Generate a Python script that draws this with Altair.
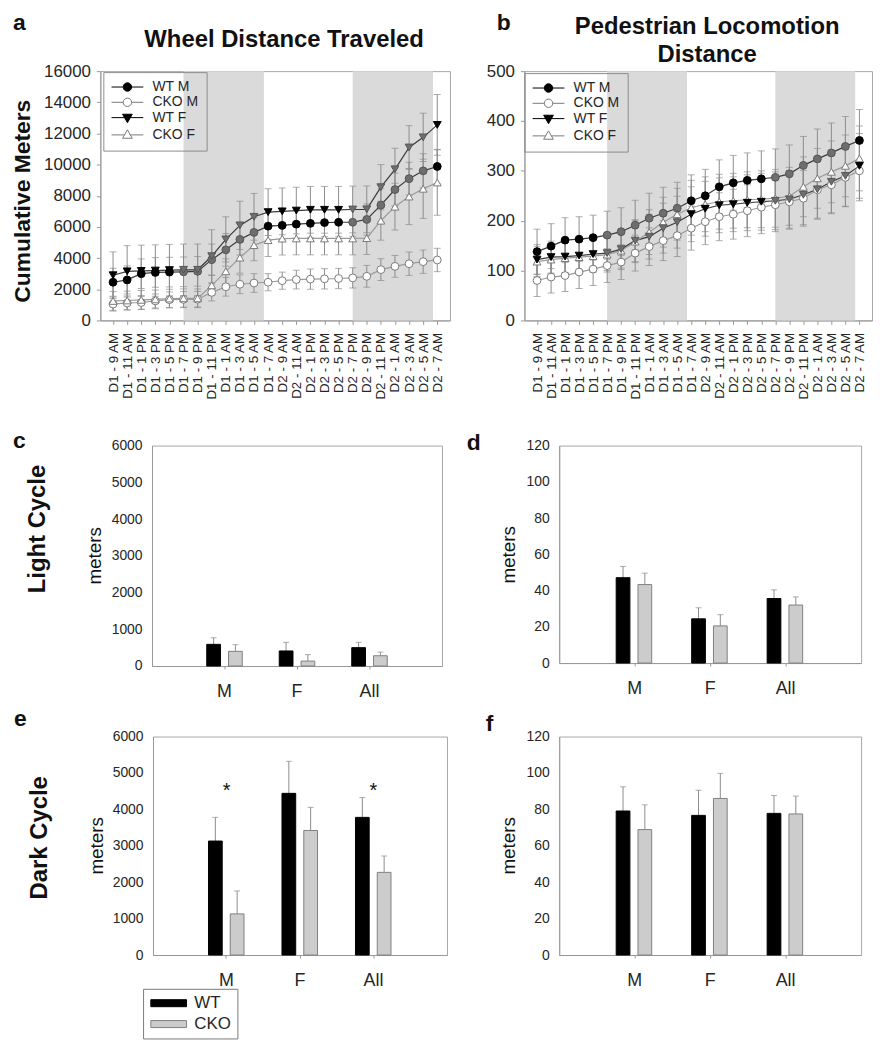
import json
import altair as alt
import pandas as pd

FONT = "Liberation Sans, Arial, Helvetica, sans-serif"
TXT = "#111111"
LAB = "#262626"
GRAY = "#999999"

# ---------------- data ----------------
time_labels = ["D1 - 9 AM", "D1 - 11 AM", "D1 - 1 PM", "D1 - 3 PM", "D1 - 5 PM", "D1 - 7 PM",
               "D1 - 9 PM", "D1 - 11 PM", "D1 - 1 AM", "D1 - 3 AM", "D1 - 5 AM", "D1 - 7 AM",
               "D2 - 9 AM", "D2 - 11 AM", "D2 - 1 PM", "D2 - 3 PM", "D2 - 5 PM", "D2 - 7 PM",
               "D2 - 9 PM", "D2 - 11 PM", "D2 - 1 AM", "D2 - 3 AM", "D2 - 5 AM", "D2 - 7 AM"]
series_names = ["WT M", "CKO M", "WT F", "CKO F"]
dark_start = [5.0, 17.0]
dark_end = [10.7, 22.7]

wheel_wt_m = [2450, 2600, 3000, 3080, 3100, 3120, 3150, 3900, 4530, 5200, 5650, 6050,
              6100, 6180, 6230, 6280, 6300, 6300, 6480, 7400, 8400, 9100, 9600, 9880]
wheel_wt_m_err = [900, 900, 950, 950, 950, 950, 950, 1000, 1050, 1000, 950, 900,
                  900, 900, 900, 900, 900, 900, 1000, 1050, 1050, 1050, 1100, 1100]
wheel_cko_m = [1050, 1120, 1150, 1250, 1330, 1350, 1360, 1800, 2160, 2320, 2400, 2450,
               2550, 2620, 2650, 2670, 2690, 2730, 2830, 3260, 3470, 3640, 3770, 3880]
wheel_cko_m_err = [450, 450, 450, 450, 500, 500, 500, 550, 600, 600, 600, 550,
                   550, 600, 650, 650, 650, 650, 700, 700, 700, 750, 750, 750]
wheel_wt_f = [2900, 3150, 3180, 3200, 3230, 3250, 3250, 4120, 5200, 6100, 6650, 6950,
              7000, 7050, 7100, 7100, 7100, 7120, 7130, 8550, 9700, 11100, 11750, 12550]
wheel_wt_f_err = [1500, 1650, 1650, 1650, 1650, 1650, 1650, 1700, 1450, 1550, 1500, 1500,
                  1500, 1500, 1500, 1500, 1500, 1500, 1500, 1450, 1350, 1400, 1550, 1950]
wheel_cko_f = [1250, 1280, 1320, 1350, 1400, 1420, 1420, 2250, 3150, 4030, 4830, 5150,
               5250, 5260, 5260, 5260, 5260, 5260, 5280, 6400, 7300, 7950, 8450, 8850]
wheel_cko_f_err = [600, 600, 600, 600, 600, 600, 600, 650, 800, 1000, 1000, 1050,
                   1050, 1050, 1050, 1050, 1050, 1050, 1050, 1250, 1500, 1800, 1900, 2100]

ped_wt_m = [138, 149, 161, 163, 166, 171, 178, 191, 205, 215, 225, 240,
            250, 268, 276, 281, 284, 287, 294, 311, 324, 336, 349, 361]
ped_wt_m_err = [45, 45, 45, 45, 45, 48, 48, 50, 50, 52, 52, 52,
                53, 54, 55, 55, 56, 57, 58, 58, 60, 60, 60, 62]
ped_cko_m = [80, 87, 90, 97, 103, 110, 117, 135, 148, 160, 170, 185,
             198, 208, 213, 220, 227, 232, 238, 245, 262, 272, 287, 300]
ped_cko_m_err = [32, 32, 32, 33, 33, 34, 35, 36, 38, 40, 42, 44,
                 46, 48, 50, 52, 53, 54, 55, 56, 57, 58, 58, 60]
ped_wt_f = [122, 127, 128, 130, 133, 135, 143, 160, 168, 185, 197, 213,
            224, 231, 233, 236, 238, 240, 243, 252, 263, 278, 290, 310]
ped_wt_f_err = [30, 32, 32, 33, 33, 35, 38, 42, 45, 50, 52, 55,
                55, 55, 55, 56, 57, 58, 58, 60, 60, 62, 62, 65]
ped_cko_f = [118, 122, 125, 127, 129, 132, 140, 158, 177, 197, 213, 226,
             233, 238, 240, 242, 243, 245, 249, 268, 285, 298, 310, 325]
ped_cko_f_err = [30, 32, 32, 33, 33, 35, 38, 42, 45, 50, 52, 55,
                 55, 55, 55, 56, 57, 58, 58, 60, 60, 62, 62, 65]

bar_groups = ["M", "F", "All"]
genotypes = ["WT", "CKO"]
light_wheel_wt = [590, 410, 500]
light_wheel_wt_err = [180, 235, 145]
light_wheel_cko = [400, 135, 280]
light_wheel_cko_err = [180, 175, 100]
light_ped_wt = [47.1, 24.4, 35.6]
light_ped_wt_err = [6.2, 6.1, 4.8]
light_ped_cko = [43.3, 20.5, 32.0]
light_ped_cko_err = [6.3, 6.2, 4.5]
dark_wheel_wt = [3130, 4440, 3780]
dark_wheel_wt_err = [650, 880, 545]
dark_wheel_cko = [1130, 3420, 2270]
dark_wheel_cko_err = [630, 635, 450]
dark_ped_wt = [79.1, 76.7, 77.8]
dark_ped_wt_err = [13.3, 13.8, 9.8]
dark_ped_cko = [68.9, 86.0, 77.5]
dark_ped_cko_err = [13.6, 13.8, 9.8]
sig_groups = ["M", "All"]
sig_level = 4500

ONE = pd.DataFrame({"k": [0]})
INDEP = dict(fill="independent", stroke="independent", shape="independent")


# ---------------- helpers ----------------
def txt(text, x, y, size, bold=True, angle=0, align="left", baseline="alphabetic", lh=None):
    kw = dict(font=FONT, fontSize=size, fontWeight="bold" if bold else "normal",
              align=align, baseline=baseline, color=TXT)
    if angle:
        kw["angle"] = angle
    if lh:
        kw["lineHeight"] = lh
    return alt.Chart(ONE).mark_text(**kw).encode(
        x=alt.value(x), y=alt.value(y), text=alt.value(text))


def pin(x0, y0, x1, y1):
    return alt.Chart(ONE).mark_rule(opacity=0, strokeWidth=0.01).encode(
        x=alt.value(x0), y=alt.value(y0), x2=alt.value(x1), y2=alt.value(y1))


def spacer():
    return alt.Chart(ONE).mark_rule(opacity=0, strokeWidth=0.01).encode(
        x=alt.value(0), y=alt.value(0), x2=alt.value(0), y2=alt.value(0)
    ).properties(width=1, height=1, view=alt.ViewBackground(stroke=None))


# legend symbol paths (line + marker), unit = sqrt(size)/2
CX = 2.18


def circ_path():
    return (f"M-1.59,0H{CX-1:.2f}M{CX+1:.2f},0H5.95"
            f"M{CX-1:.2f},0A1,1 0 1,1 {CX+1:.2f},0A1,1 0 1,1 {CX-1:.2f},0Z")


def tri_path(down=True):
    s = 1 if down else -1
    return (f"M-1.59,0H{CX-0.69:.2f}M{CX+0.69:.2f},0H5.95"
            f"M{CX-1.15:.2f},{-0.8*s:.2f}L{CX+1.15:.2f},{-0.8*s:.2f}L{CX:.2f},{1.2*s:.2f}Z")


legend_paths = [circ_path(), circ_path(), tri_path(True), tri_path(False)]
styles = {
    "WT M": dict(shape="circle", fill="black", dfill="#6e6e6e", stroke="black", dstroke="#555555", line="#3a3a3a"),
    "CKO M": dict(shape="circle", fill="white", dfill="white", stroke="#7a7a7a", dstroke="#7a7a7a", line="#9a9a9a"),
    "WT F": dict(shape="triangle-down", fill="black", dfill="#6e6e6e", stroke="black", dstroke="#555555", line="#3a3a3a"),
    "CKO F": dict(shape="triangle-up", fill="white", dfill="white", stroke="#7a7a7a", dstroke="#7a7a7a", line="#9a9a9a"),
}


def line_panel(series_data, ymax, ystep, W, H, leg_xy, extras):
    rows = []
    for s, (vals, errs) in series_data.items():
        for i, (v, e) in enumerate(zip(vals, errs)):
            dark = any(a <= i <= b for a, b in zip(dark_start, dark_end))
            rows.append(dict(series=s, t=i, v=v, lo=v - e, hi=v + e, dark=dark))
    df = pd.DataFrame(rows)
    shade_df = pd.DataFrame({"start": dark_start, "end": dark_end})

    xscale = alt.Scale(domain=[-0.9, 23.9], nice=False, zero=False)
    yscale = alt.Scale(domain=[0, ymax], nice=False)
    xaxis = alt.Axis(title=None, values=list(range(len(time_labels))),
                     labelExpr=f"{json.dumps(time_labels)}[datum.value]",
                     labelAngle=-90, labelFont=FONT, labelFontSize=13.5, labelColor=LAB,
                     labelPadding=8, labelOverlap=False, labelFlush=False,
                     tickSize=4, tickColor=GRAY, domainColor=GRAY, grid=False)
    yaxis = alt.Axis(title=None, values=list(range(0, ymax + 1, ystep)), format="d",
                     labelFont=FONT, labelFontSize=17, labelColor=LAB, labelPadding=6,
                     tickSize=4, tickColor=GRAY, domainColor=GRAY, grid=False)
    X = alt.X("t:Q", scale=xscale, axis=xaxis)

    layers = [alt.Chart(shade_df).mark_rect(color="#dadada").encode(
        x=alt.X("start:Q", scale=xscale, axis=xaxis), x2="end:Q",
        y=alt.value(0), y2=alt.value(H))]
    base = alt.Chart(df)
    for s in series_names:
        b = base.transform_filter(alt.datum.series == s)
        layers.append(b.mark_rule(color="#8c8c8c", strokeWidth=1).encode(
            x=X, y=alt.Y("lo:Q", scale=yscale, axis=yaxis), y2="hi:Q"))
        for f in ["lo", "hi"]:
            layers.append(b.mark_tick(orient="horizontal", size=7, thickness=1, color="#8c8c8c").encode(
                x=X, y=alt.Y(f"{f}:Q", scale=yscale, axis=yaxis)))
    for s in series_names:
        st = styles[s]
        b = base.transform_filter(alt.datum.series == s)
        layers.append(b.mark_line(color=st["line"], strokeWidth=1.2).encode(
            x=X, y=alt.Y("v:Q", scale=yscale, axis=yaxis)))
    for s in ["CKO M", "CKO F", "WT M", "WT F"]:
        st = styles[s]
        b = base.transform_filter(alt.datum.series == s)
        layers.append(b.mark_point(shape=st["shape"], filled=True, size=62, strokeWidth=1, opacity=1).encode(
            x=X, y=alt.Y("v:Q", scale=yscale, axis=yaxis),
            fill=alt.condition(alt.datum.dark, alt.value(st["dfill"]), alt.value(st["fill"])),
            stroke=alt.condition(alt.datum.dark, alt.value(st["dstroke"]), alt.value(st["stroke"]))))
    leg = alt.Legend(title=None, orient="none", legendX=leg_xy[0], legendY=leg_xy[1],
                     strokeColor="#8c8c8c", padding=8, labelFont=FONT, labelFontSize=14,
                     labelColor=LAB, labelOffset=27.5, symbolSize=72, symbolStrokeWidth=1,
                     rowPadding=1.4, symbolOpacity=1, labelLimit=200)
    layers.append(base.mark_point(opacity=0, filled=True).encode(
        x=X, y=alt.Y("v:Q", scale=yscale, axis=yaxis),
        shape=alt.Shape("series:N", scale=alt.Scale(domain=series_names, range=legend_paths), legend=leg),
        fill=alt.Fill("series:N", scale=alt.Scale(domain=series_names, range=["black", "white", "black", "white"]), legend=leg),
        stroke=alt.Stroke("series:N", scale=alt.Scale(domain=series_names, range=["black", "#7a7a7a", "black", "#7a7a7a"]), legend=leg)))
    layers += extras
    return alt.layer(*layers).properties(width=W, height=H)


def bar_panel(wt, wt_err, cko, cko_err, ymax, ystep, W, H, extras, legend_xy=None, stars=None):
    rows = []
    for g, vals, errs in [("WT", wt, wt_err), ("CKO", cko, cko_err)]:
        for c, v, e in zip(bar_groups, vals, errs):
            rows.append(dict(cat=c, geno=g, v=v, hi=v + e))
    df = pd.DataFrame(rows)
    xaxis = alt.Axis(title=None, labelAngle=0, labelFont=FONT, labelFontSize=18, labelColor=LAB,
                     labelPadding=14, tickSize=3, tickColor=GRAY, domainColor=GRAY, grid=False)
    yaxis = alt.Axis(title=None, values=list(range(0, ymax + 1, ystep)), format="d",
                     labelFont=FONT, labelFontSize=14, labelColor=LAB, labelPadding=10,
                     tickSize=0, domainColor=GRAY, grid=False)
    X = alt.X("cat:N", scale=alt.Scale(domain=bar_groups, paddingInner=0.51, paddingOuter=0.755), axis=xaxis)
    XO = alt.XOffset("geno:N", scale=alt.Scale(domain=genotypes, paddingInner=0.37, paddingOuter=0))
    yscale = alt.Scale(domain=[0, ymax], nice=False)
    if legend_xy is not None:
        leg = alt.Legend(title=None, orient="none", legendX=legend_xy[0], legendY=legend_xy[1],
                         strokeColor="#7a7a7a", padding=6, labelFont=FONT, labelFontSize=17,
                         labelColor=LAB, labelOffset=28.6, symbolSize=207, symbolStrokeWidth=1,
                         rowPadding=3, symbolOpacity=1, symbolType="M-0.93,-0.49H4.07V0.49H-0.93Z")
    else:
        leg = None
    base = alt.Chart(df)
    layers = [
        base.mark_rule(color="#8c8c8c", strokeWidth=1).encode(
            x=X, xOffset=XO, y=alt.Y("v:Q", scale=yscale, axis=yaxis), y2="hi:Q"),
        base.mark_tick(orient="horizontal", size=6, thickness=1, color="#8c8c8c").encode(
            x=X, xOffset=XO, y=alt.Y("hi:Q", scale=yscale, axis=yaxis)),
        base.mark_bar(strokeWidth=1).encode(
            x=X, xOffset=XO, y=alt.Y("v:Q", scale=yscale, axis=yaxis),
            fill=alt.Fill("geno:N", scale=alt.Scale(domain=genotypes, range=["black", "#cccccc"]), legend=leg),
            stroke=alt.Stroke("geno:N", scale=alt.Scale(domain=genotypes, range=["black", "#808080"]), legend=leg)),
    ]
    if stars:
        sdf = pd.DataFrame({"cat": stars, "v": [sig_level] * len(stars)})
        layers.append(alt.Chart(sdf).mark_text(text="*", font=FONT, fontSize=20, color=TXT, baseline="middle").encode(
            x=X, y=alt.Y("v:Q", scale=yscale, axis=yaxis)))
    layers += extras
    return alt.layer(*layers).properties(width=W, height=H)


# ---------------- panels ----------------
pa = line_panel({"WT M": (wheel_wt_m, wheel_wt_m_err), "CKO M": (wheel_cko_m, wheel_cko_m_err),
                 "WT F": (wheel_wt_f, wheel_wt_f_err), "CKO F": (wheel_cko_f, wheel_cko_f_err)},
                16000, 2000, 352, 251, (3, 1),
                [txt("a", -88, -41, 23),
                 txt("Wheel Distance Traveled", 185, -24, 24, align="center"),
                 txt("Cumulative Meters", -78, 131, 23, angle=270, align="center", baseline="middle"),
                 pin(-91, -59, 360, 352)])
pb = line_panel({"WT M": (ped_wt_m, ped_wt_m_err), "CKO M": (ped_cko_m, ped_cko_m_err),
                 "WT F": (ped_wt_f, ped_wt_f_err), "CKO F": (ped_cko_f, ped_cko_f_err)},
                500, 100, 350, 251, (0, 2),
                [txt("b", -28, -41, 23),
                 txt(["Pedestrian Locomotion", "Distance"], 184, -37, 24, align="center", lh=28),
                 pin(-65, -59, 351, 352)])
pc = bar_panel(light_wheel_wt, light_wheel_wt_err, light_wheel_cko, light_wheel_cko_err,
               6000, 1000, 292, 222,
               [txt("c", -140, 2, 23),
                txt("Light Cycle", -115, 84, 24, angle=270, align="center", baseline="middle"),
                txt("meters", -57, 111, 19, bold=False, angle=270, align="center", baseline="middle"),
                pin(-143, -23, 308, 261)])
pd_ = bar_panel(light_ped_wt, light_ped_wt_err, light_ped_cko, light_ped_cko_err,
                120, 20, 304, 219,
                [txt("d", -93, 4, 23),
                 txt("meters", -51, 110, 19, bold=False, angle=270, align="center", baseline="middle"),
                 pin(-100, -23, 316, 261)])
pe = bar_panel(dark_wheel_wt, dark_wheel_wt_err, dark_wheel_cko, dark_wheel_cko_err,
               6000, 1000, 296, 220,
               [txt("e", -140, -11, 23),
                txt("Dark Cycle", -114, 102, 24, angle=270, align="center", baseline="middle"),
                txt("meters", -56, 110, 19, bold=False, angle=270, align="center", baseline="middle"),
                pin(-144, -30, 307, 303)],
               legend_xy=(-10, 254), stars=sig_groups)
pf = bar_panel(dark_ped_wt, dark_ped_wt_err, dark_ped_cko, dark_ped_cko_err,
               120, 20, 304, 220,
               [txt("f", -74, -6, 23),
                txt("meters", -51, 110, 19, bold=False, angle=270, align="center", baseline="middle"),
                pin(-100, -30, 316, 303)])

row1 = alt.hconcat(spacer(), pa, pb, spacing=0, bounds="full").resolve_scale(**INDEP)
row2 = alt.hconcat(spacer(), pc, pd_, spacing=0, bounds="full").resolve_scale(**INDEP)
row3 = alt.hconcat(spacer(), pe, pf, spacing=0, bounds="full").resolve_scale(**INDEP)

chart = alt.vconcat(row1, row2, row3, spacing=0, bounds="full").resolve_scale(**INDEP).properties(
    padding=0, background="white").configure_view(stroke="#a6a6a6", strokeWidth=1)

chart.save("out.html", embed_options={"renderer": "svg", "actions": False})
